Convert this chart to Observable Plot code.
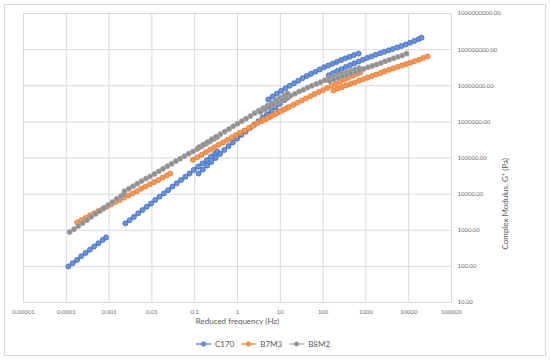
<!DOCTYPE html>
<html><head><meta charset="utf-8">
<script src="https://cdn.jsdelivr.net/npm/d3@7"></script>
<script src="https://cdn.jsdelivr.net/npm/@observablehq/plot@0.6"></script>
<style>
html,body{margin:0;padding:0;background:#fff;}
#chart{position:relative;width:550px;height:361px;overflow:hidden;font-family:Lato,"Open Sans",sans-serif;}
#frame{position:absolute;left:4px;top:4px;width:542px;height:352px;border:1px solid #d9d9d9;box-sizing:border-box;}
#plot{position:absolute;left:0;top:0;}
#legend{position:absolute;left:196px;top:339px;display:flex;align-items:center;font-size:8px;color:#595959;}
#legend .item{display:flex;align-items:center;margin-right:7px;}
#legend svg{margin-right:4px;}
</style></head>
<body><div id="chart"><div id="frame"></div><div id="plot"></div><div id="legend"></div></div>
<script>
const seriesNames = ["C170", "B7M3", "B8M2"];
const seriesColors = ["#4472C4", "#ED7D31", "#A5A5A5"];
const markerFills = ["#6d93d6", "#f29a5e", "#8f8f8f"];

const xTicks = [1e-5, 1e-4, 1e-3, 1e-2, 1e-1, 1, 10, 100, 1000, 10000, 100000];
const xTickLabels = ["0.00001", "0.0001", "0.001", "0.01", "0.1", "1", "10", "100", "1000", "10000", "100000"];
const yTicks = [10, 100, 1e3, 1e4, 1e5, 1e6, 1e7, 1e8, 1e9];
const yTickLabels = ["10.00", "100.00", "1000.00", "10000.00", "100000.00", "1000000.00", "10000000.00", "100000000.00", "1000000000.00"];
const xTitle = "Reduced frequency (Hz)";
const yTitle = "Complex Modulus, G* (Pa)";

// C170
const c170Freq = [
  [1.12e-4, 1.41e-4, 1.78e-4, 2.24e-4, 2.82e-4, 3.55e-4, 4.47e-4, 5.62e-4, 7.08e-4, 8.51e-4],
  [0.0024, 0.00302, 0.0038, 0.00479, 0.00603, 0.00759, 0.00955, 0.012, 0.0151, 0.0191, 0.024, 0.0302, 0.038, 0.0479, 0.0603, 0.0759, 0.0955, 0.12, 0.151, 0.191, 0.24, 0.302, 0.339],
  [0.123, 0.155, 0.195, 0.245, 0.309, 0.389, 0.49, 0.617, 0.776, 0.977, 1.23, 1.55, 1.95, 2.45, 3.09, 3.89, 4.9, 6.17, 7.76, 9.77, 12.3, 14.8],
  [5.25, 6.61, 8.32, 10.5, 13.2, 16.6, 20.9, 26.3, 33.1, 41.7, 52.5, 66.1, 83.2, 105, 132, 166, 209, 263, 331, 417, 525, 676],
  [135, 170, 214, 269, 339, 427, 537, 676, 851, 1072, 1349, 1698, 2138, 2692, 3388, 4266, 5370, 6761, 8511, 10720, 13490, 16980, 19950]
];
const c170G = [
  [100, 123, 151, 191, 234, 288, 355, 437, 537, 631],
  [1550, 1905, 2344, 2951, 3631, 4467, 5495, 6918, 8511, 10470, 12880, 16220, 19950, 24550, 30200, 37150, 46770, 57540, 70790, 87100, 109600, 134900, 151400],
  [37150, 47860, 61660, 77620, 100000, 128800, 166000, 213800, 269200, 346700, 436500, 537000, 676100, 831800, 1047000, 1318000, 1622000, 2042000, 2512000, 3162000, 3981000, 4677000],
  [4.17e6, 5.01e6, 6.03e6, 7.24e6, 8.51e6, 1.0e7, 1.175e7, 1.38e7, 1.62e7, 1.86e7, 2.14e7, 2.45e7, 2.82e7, 3.24e7, 3.63e7, 4.07e7, 4.57e7, 5.13e7, 5.75e7, 6.31e7, 7.08e7, 7.76e7],
  [1.95e7, 2.24e7, 2.57e7, 2.88e7, 3.31e7, 3.72e7, 4.17e7, 4.68e7, 5.25e7, 5.89e7, 6.46e7, 7.24e7, 7.94e7, 8.71e7, 9.55e7, 1.047e8, 1.148e8, 1.259e8, 1.38e8, 1.549e8, 1.738e8, 1.95e8, 2.138e8]
];

// B7M3
const b7m3Freq = [
  [1.78e-4, 2.24e-4, 2.82e-4, 3.55e-4, 4.47e-4, 5.62e-4, 7.08e-4, 8.91e-4, 1.12e-3, 1.41e-3, 1.78e-3, 2.24e-3, 2.82e-3, 3.55e-3, 4.47e-3, 5.62e-3, 7.08e-3, 8.91e-3, 1.12e-2, 1.41e-2, 1.78e-2, 2.24e-2, 2.69e-2],
  [0.0912, 0.115, 0.145, 0.182, 0.229, 0.288, 0.363, 0.457, 0.575, 0.724, 0.912, 1.15, 1.45, 1.82, 2.29, 2.88, 3.63, 4.57, 5.75, 7.24, 9.12, 11.5, 14.5],
  [3.98, 5.01, 6.31, 7.94, 10, 12.6, 15.8, 20, 25.1, 31.6, 39.8, 50.1, 63.1, 79.4, 100, 126, 158, 200, 251, 316, 398, 501, 631, 741],
  [174, 219, 275, 347, 437, 550, 692, 871, 1096, 1380, 1738, 2188, 2754, 3467, 4365, 5495, 6918, 8710, 10960, 13800, 17380, 21880, 27540]
];
const b7m3G = [
  [1660, 1905, 2188, 2570, 2951, 3388, 3890, 4467, 5129, 6026, 6918, 7943, 9120, 10470, 12020, 14130, 16220, 18620, 21380, 24550, 28840, 33110, 37150],
  [89130, 104700, 123000, 144500, 169800, 199500, 234400, 269200, 316200, 371500, 426600, 501200, 575400, 676100, 776200, 912000, 1047000, 1202000, 1380000, 1622000, 1862000, 2138000, 2455000],
  [1.122e6, 1.288e6, 1.479e6, 1.698e6, 1.95e6, 2.239e6, 2.57e6, 2.951e6, 3.388e6, 3.89e6, 4.467e6, 5.129e6, 5.888e6, 6.761e6, 7.586e6, 8.71e6, 1e7, 1.122e7, 1.288e7, 1.479e7, 1.66e7, 1.905e7, 2.138e7, 2.344e7],
  [7.41e6, 8.32e6, 9.12e6, 1.023e7, 1.122e7, 1.23e7, 1.38e7, 1.514e7, 1.66e7, 1.862e7, 2.042e7, 2.239e7, 2.512e7, 2.754e7, 3.02e7, 3.311e7, 3.631e7, 3.981e7, 4.365e7, 4.786e7, 5.248e7, 5.888e7, 6.457e7]
];

// B8M2
const b8m2Freq = [
  [1.2e-4, 1.51e-4, 1.91e-4, 2.4e-4, 3.02e-4, 3.8e-4, 4.79e-4, 6.03e-4, 7.59e-4, 9.55e-4, 1.2e-3, 1.51e-3, 1.91e-3, 2.19e-3],
  [2.29e-3, 2.88e-3, 3.63e-3, 4.57e-3, 5.75e-3, 7.24e-3, 9.12e-3, 1.15e-2, 1.45e-2, 1.82e-2, 2.29e-2, 2.88e-2, 3.63e-2, 4.57e-2, 5.75e-2, 7.24e-2, 9.12e-2, 0.115, 0.145, 0.182, 0.229, 0.288, 0.339],
  [0.126, 0.158, 0.2, 0.251, 0.316, 0.398, 0.501, 0.631, 0.794, 1, 1.26, 1.58, 2, 2.51, 3.16, 3.98, 5.01, 6.31, 7.94, 10, 12.6, 14.8],
  [3.47, 4.37, 5.5, 6.92, 8.71, 11, 13.8, 17.4, 21.9, 27.5, 34.7, 43.7, 55, 69.2, 87.1, 110, 138, 174, 219, 275, 347, 437, 550, 692],
  [141, 178, 224, 282, 355, 447, 562, 708, 891, 1122, 1413, 1778, 2239, 2818, 3548, 4467, 5623, 7079, 8913]
];
const b8m2G = [
  [891, 1072, 1318, 1585, 1905, 2344, 2818, 3388, 4169, 5012, 6026, 7413, 8913, 10000],
  [12020, 14130, 16600, 19500, 22910, 26920, 30900, 36310, 42660, 50120, 58880, 69180, 81280, 95500, 112200, 131800, 151400, 177800, 208900, 245500, 288400, 338800, 380200],
  [199500, 234400, 275400, 331100, 389000, 457100, 537000, 631000, 758600, 891300, 1047000, 1230000, 1445000, 1738000, 2042000, 2399000, 2818000, 3311000, 3981000, 4677000, 5495000, 6166000],
  [1.862e6, 2.188e6, 2.57e6, 2.951e6, 3.467e6, 3.981e6, 4.571e6, 5.248e6, 6.026e6, 6.918e6, 7.762e6, 8.913e6, 1e7, 1.122e7, 1.259e7, 1.413e7, 1.585e7, 1.778e7, 1.95e7, 2.138e7, 2.344e7, 2.57e7, 2.818e7, 3.09e7],
  [1.349e7, 1.479e7, 1.66e7, 1.82e7, 1.995e7, 2.188e7, 2.399e7, 2.63e7, 2.951e7, 3.236e7, 3.548e7, 3.89e7, 4.266e7, 4.786e7, 5.248e7, 5.754e7, 6.31e7, 6.918e7, 7.762e7]
];

function toRows(name, freqSegs, gSegs) {
  const rows = [];
  freqSegs.forEach((fs, si) => fs.forEach((f, i) => rows.push({series: name, seg: name + "-" + si, f, g: gSegs[si][i]})));
  return rows;
}
const allData = [
  toRows("C170", c170Freq, c170G),
  toRows("B7M3", b7m3Freq, b7m3G),
  toRows("B8M2", b8m2Freq, b8m2G)
];

const seriesMarks = [];
allData.forEach((rows, k) => {
  seriesMarks.push(Plot.line(rows, {x: "f", y: "g", z: "seg", stroke: seriesColors[k], strokeWidth: 1.5}));
  seriesMarks.push(Plot.dot(rows, {x: "f", y: "g", r: 2.5, fill: markerFills[k], stroke: seriesColors[k], strokeWidth: 0.9}));
});

const chart = Plot.plot({
  width: 550,
  height: 330,
  marginLeft: 23,
  marginRight: 99,
  marginTop: 13,
  marginBottom: 28,
  style: {fontFamily: "Lato, 'Open Sans', sans-serif", fontSize: "6px", color: "#6a6a6a", background: "transparent"},
  x: {type: "log", domain: [1e-5, 1e5], ticks: xTicks, tickFormat: d => xTickLabels[xTicks.indexOf(d)], tickSize: 0, tickPadding: 7, label: null},
  y: {type: "log", domain: [10, 1e9], axis: "right", ticks: yTicks, tickFormat: d => yTickLabels[yTicks.indexOf(d)], tickSize: 0, tickPadding: 6, label: null},
  marks: [
    Plot.ruleX(xTicks, {stroke: "#d9d9d9", strokeWidth: 1}),
    Plot.ruleY(yTicks, {stroke: "#d9d9d9", strokeWidth: 1}),
    ...seriesMarks,
    Plot.text([xTitle], {frameAnchor: "bottom", dy: 21, fontSize: 8, fill: "#595959"}),
    Plot.text([yTitle], {frameAnchor: "right", dx: 54, rotate: -90, fontSize: 8, fill: "#595959"})
  ]
});
document.getElementById("plot").appendChild(chart);

const legend = document.getElementById("legend");
seriesNames.forEach((name, k) => {
  const item = document.createElement("div");
  item.className = "item";
  item.innerHTML = `<svg width="15" height="8"><line x1="0" y1="4" x2="15" y2="4" stroke="${seriesColors[k]}" stroke-width="1.2"/><circle cx="7.5" cy="4" r="2.2" fill="${markerFills[k]}" stroke="${seriesColors[k]}" stroke-width="0.8"/></svg><span>${name}</span>`;
  legend.appendChild(item);
});
</script>
</body></html>
